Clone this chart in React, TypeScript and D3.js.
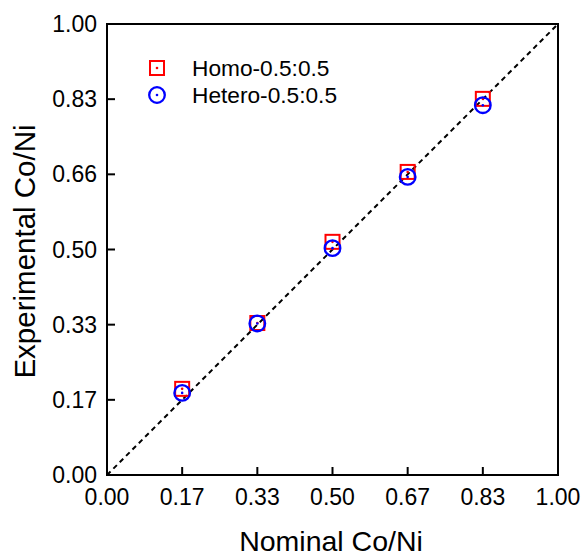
import React from "react";
import * as d3 from "d3";

const xTicks = [0, 1 / 6, 1 / 3, 0.5, 2 / 3, 5 / 6, 1];
const xTickLabels = ["0.00", "0.17", "0.33", "0.50", "0.67", "0.83", "1.00"];
const yTicks = [0, 1 / 6, 1 / 3, 0.5, 2 / 3, 5 / 6, 1];
const yTickLabels = ["0.00", "0.17", "0.33", "0.50", "0.66", "0.83", "1.00"];

const nominal = [1 / 6, 1 / 3, 0.5, 2 / 3, 5 / 6];
const homo = [0.191, 0.337, 0.517, 0.672, 0.834];
const hetero = [0.182, 0.336, 0.503, 0.661, 0.82];

const W = 587;
const H = 556;
const M = { left: 107, right: 558, top: 24, bottom: 475 };

export default function App() {
  const x = d3.scaleLinear().domain([0, 1]).range([M.left, M.right]);
  const y = d3.scaleLinear().domain([0, 1]).range([M.bottom, M.top]);
  const font = "Liberation Sans, Arial, sans-serif";
  const line = d3.line<[number, number]>().x((d) => x(d[0])).y((d) => y(d[1]));

  return (
    <svg width={W} height={H} style={{ position: "absolute", left: 0, top: 0, background: "#fff" }} fontFamily={font}>
      {/* parity line */}
      <path d={line([[0, 0], [1, 1]]) || ""} stroke="#000" strokeWidth={2} strokeDasharray="5,4" fill="none" />

      {/* frame */}
      <rect x={M.left} y={M.top} width={M.right - M.left} height={M.bottom - M.top} fill="none" stroke="#000" strokeWidth={2} />

      {/* x ticks */}
      {xTicks.map((t, i) => (
        <g key={"xt" + i}>
          <line x1={x(t)} x2={x(t)} y1={M.bottom} y2={M.bottom - 8} stroke="#000" strokeWidth={2} />
          <text x={x(t)} y={505} fontSize={23} textAnchor="middle">{xTickLabels[i]}</text>
        </g>
      ))}
      {/* y ticks */}
      {yTicks.map((t, i) => (
        <g key={"yt" + i}>
          <line x1={M.left} x2={M.left + 8} y1={y(t)} y2={y(t)} stroke="#000" strokeWidth={2} />
          <text x={97} y={y(t) + 8} fontSize={23} textAnchor="end">{yTickLabels[i]}</text>
        </g>
      ))}

      {/* Homo series */}
      {nominal.map((n, i) => (
        <g key={"h" + i}>
          <rect x={x(n) - 7} y={y(homo[i]) - 7} width={14} height={14} fill="none" stroke="#ff0000" strokeWidth={2} />
          <circle cx={x(n)} cy={y(homo[i])} r={1.3} fill="#ff0000" />
        </g>
      ))}
      {/* Hetero series */}
      {nominal.map((n, i) => (
        <g key={"e" + i}>
          <circle cx={x(n)} cy={y(hetero[i])} r={7.8} fill="none" stroke="#0000ff" strokeWidth={2.3} />
          <circle cx={x(n)} cy={y(hetero[i])} r={1.3} fill="#0000ff" />
        </g>
      ))}

      {/* legend */}
      <rect x={157 - 7} y={68 - 7} width={14} height={14} fill="none" stroke="#ff0000" strokeWidth={2} />
      <circle cx={157} cy={68} r={1.3} fill="#ff0000" />
      <text x={192} y={76} fontSize={22.7}>Homo-0.5:0.5</text>
      <circle cx={157} cy={95} r={7.8} fill="none" stroke="#0000ff" strokeWidth={2.3} />
      <circle cx={157} cy={95} r={1.3} fill="#0000ff" />
      <text x={192} y={103} fontSize={22.7}>Hetero-0.5:0.5</text>

      {/* axis titles */}
      <text x={331} y={551} fontSize={28.5} textAnchor="middle">Nominal Co/Ni</text>
      <text transform={`translate(35, 251.5) rotate(-90)`} fontSize={29.5} textAnchor="middle">Experimental Co/Ni</text>
    </svg>
  );
}
